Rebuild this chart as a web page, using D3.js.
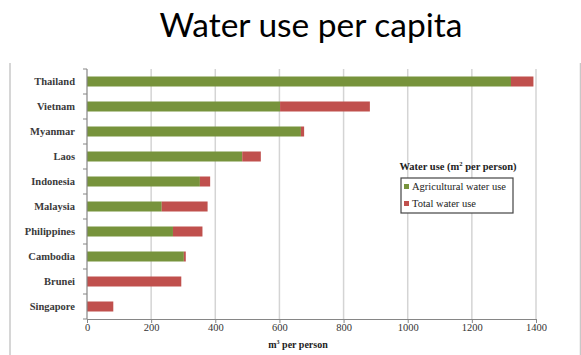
<!DOCTYPE html>
<html><head><meta charset="utf-8">
<script src="https://cdn.jsdelivr.net/npm/d3@7"></script>
<style>body{margin:0;background:#fff;} svg{display:block;}</style>
</head><body>
<svg id="c" width="581" height="355"></svg>
<script>
const countries = ["Thailand","Vietnam","Myanmar","Laos","Indonesia","Malaysia","Philippines","Cambodia","Brunei","Singapore"];
const agricultural = [1322, 602, 667, 484, 352, 233, 268, 302, 0, 0];
const total = [1392, 882, 677, 542, 384, 376, 360, 308, 294, 82];
const xTicks = [0,200,400,600,800,1000,1200,1400];
const seriesNames = ["Agricultural water use","Total water use"];
const colors = ["#77933C","#C0504D"];

const svg = d3.select("#c");
const m = {left:87, right:536, top:69, bottom:319};
const x = d3.scaleLinear().domain([0,1400]).range([m.left, m.right]);
const y = d3.scaleBand().domain(countries).range([m.top, m.bottom]).paddingInner(0.6).paddingOuter(0.3);
const yb = d3.scaleBand().domain(countries).range([m.top, m.bottom]);

// outer frame (side edges only)
svg.append("g").selectAll("line").data([10, 580.5]).join("line")
  .attr("x1",d=>d).attr("x2",d=>d).attr("y1",63).attr("y2",355)
  .attr("stroke","#c8c8c8").attr("stroke-width",1.5);

// title
svg.append("text").attr("x",311).attr("y",37).attr("text-anchor","middle")
  .attr("font-family","Lato, 'Open Sans', sans-serif").attr("font-size",33.5).attr("fill","#000")
  .text("Water use per capita");

// gridlines
svg.append("g").selectAll("line").data(xTicks.slice(1)).join("line")
  .attr("x1",d=>x(d)).attr("x2",d=>x(d)).attr("y1",m.top).attr("y2",m.bottom)
  .attr("stroke","#d4d4d4").attr("stroke-width",1.5);

// bars
const rows = countries.map((c,i)=>({c, a:agricultural[i], t:total[i]}));
svg.append("g").selectAll("rect").data(rows).join("rect")
  .attr("x",d=>x(0)).attr("y",d=>y(d.c)).attr("height",y.bandwidth())
  .attr("width",d=>x(d.a)-x(0)).attr("fill",colors[0]);
svg.append("g").selectAll("rect").data(rows).join("rect")
  .attr("x",d=>x(d.a)).attr("y",d=>y(d.c)).attr("height",y.bandwidth())
  .attr("width",d=>x(d.t)-x(d.a)).attr("fill",colors[1]);

// y axis
const ya = svg.append("g");
ya.append("line").attr("x1",m.left).attr("x2",m.left).attr("y1",m.top).attr("y2",m.bottom)
  .attr("stroke","#868686").attr("stroke-width",1.2);
const bounds = countries.map(c=>yb(c)).concat([m.bottom]);
ya.selectAll("line.t").data(bounds).join("line").attr("class","t")
  .attr("x1",m.left-4).attr("x2",m.left).attr("y1",d=>d).attr("y2",d=>d)
  .attr("stroke","#868686").attr("stroke-width",1);
ya.selectAll("text").data(countries).join("text")
  .attr("x",m.left-12).attr("y",d=>yb(d)+yb.bandwidth()/2+3.5).attr("text-anchor","end")
  .attr("font-family","'Liberation Serif', 'DejaVu Serif', serif").attr("font-size",10.5)
  .attr("font-weight","bold").attr("fill","#3a3a3a").text(d=>d);

// x axis
const xa = svg.append("g").attr("transform",`translate(0,${m.bottom})`)
  .call(d3.axisBottom(x).tickValues(xTicks).tickSize(4).tickSizeOuter(0).tickFormat(d3.format("d")));
xa.select(".domain").attr("stroke","#868686").attr("stroke-width",1.2);
xa.selectAll(".tick line").attr("stroke","#868686");
xa.selectAll(".tick text").attr("font-family","'Liberation Serif', serif").attr("font-size",10.5)
  .attr("fill","#333").attr("dy","0.9em").attr("y",3);

// x axis title
const xt = svg.append("text").attr("x",298).attr("y",348).attr("text-anchor","middle")
  .attr("font-family","'Liberation Serif', serif").attr("font-size",10).attr("font-weight","bold").attr("fill","#222");
xt.append("tspan").text("m");
xt.append("tspan").attr("font-size",6).attr("dy",-4).text("3");
xt.append("tspan").attr("dy",4).text(" per person");

// legend
const lt = svg.append("text").attr("x",458).attr("y",170).attr("text-anchor","middle")
  .attr("font-family","'Liberation Serif', serif").attr("font-size",10.5).attr("font-weight","bold").attr("fill","#222");
lt.append("tspan").text("Water use (m");
lt.append("tspan").attr("font-size",6.5).attr("dy",-4).text("2");
lt.append("tspan").attr("dy",4).text(" per person)");

svg.append("rect").attr("x",401).attr("y",178).attr("width",112).attr("height",35)
  .attr("fill","#fff").attr("stroke","#444").attr("stroke-width",1.2);
const lg = svg.append("g").selectAll("g").data(seriesNames).join("g")
  .attr("transform",(d,i)=>`translate(404,${187+i*17})`);
lg.append("rect").attr("x",0).attr("y",-3).attr("width",5).attr("height",5).attr("fill",(d,i)=>colors[i]);
lg.append("text").attr("x",8).attr("y",2.5).attr("font-family","'Liberation Serif', serif")
  .attr("font-size",10.5).attr("fill","#222").text(d=>d);
</script>
</body></html>
